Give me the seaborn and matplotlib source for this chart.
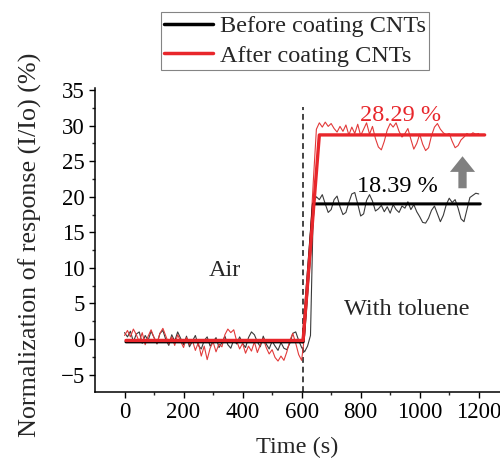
import numpy as np
import pandas as pd
import matplotlib
matplotlib.use("Agg")
import matplotlib.pyplot as plt
from matplotlib.lines import Line2D
import seaborn as sns

# ---------------- data ----------------
time_pre = np.arange(0, 601, 10)      # sampling grid, before toluene
time_post = np.arange(610, 1201, 10)  # sampling grid, with toluene

before_pre = [0.9, 0.3, 1.1, -0.4, 0.7, 1.0, -0.6, 0.5, -0.2, 1.1,
              0.2, -0.7, 0.8, 1.2, -0.1, -0.9, 0.6, -0.3, 1.0, 0.1,
              -0.8, 0.4, -1.1, -0.3, 0.5, -0.9, -1.4, -0.2, 0.3, -1.0,
              -0.4, 0.2, -1.2, -0.5, 0.4, -0.8, -1.3, -0.1, -0.7, 0.3,
              -0.6, -1.2, 0.2, 1.0, 0.6, -0.4, -1.1, 0.4, -0.7, -1.4,
              -0.3, -1.0, -1.6, -0.5, -1.3, -1.5, -0.6, 0.8, 1.0, -0.2,
              -1.2]
before_post = [-1.8, -1.0, 0.5, 19.2, 20.0, 19.6, 20.3, 19.0, 17.8, 18.2,
               19.6, 20.1, 18.6, 17.5, 17.8, 19.2, 20.4, 20.6, 19.0, 17.3,
               17.6, 19.5, 20.3, 19.4, 18.0, 18.3, 18.8, 17.9, 18.6, 17.7,
               18.9, 18.2, 17.8, 18.7, 18.4, 19.3, 18.2, 18.9, 17.9, 17.2,
               16.4, 16.3, 17.0, 18.1, 18.7, 17.6, 16.5, 17.4, 18.9, 19.8,
               19.2, 19.6, 18.4, 16.9, 16.5, 18.2, 19.9, 20.2, 20.5, 20.4]
after_pre = [0.5, 1.2, 0.3, 1.4, 0.6, -0.4, 0.9, -0.8, 0.4, 1.3,
             0.2, -0.6, 0.8, 1.5, 0.4, -0.7, 0.3, -0.9, 0.6, -0.3,
             -1.2, 0.2, -0.8, -0.2, -1.6, -0.5, -2.4, -1.0, -2.9, -1.3,
             -0.4, -1.8, -0.7, -1.1, 0.6, 1.4, 0.9, 1.3, -0.3, -1.4,
             -0.6, -2.0, -1.0, -1.7, -0.4, -1.9, -0.8, 0.1, -1.2, -2.1,
             -1.5, -2.6, -3.1, -2.4, -3.0, -1.8, -0.2, 0.8, -0.6, -2.2,
             -3.0]
after_post = [0.5, 7.5, 15.0, 22.5, 29.5, 30.4, 29.8, 30.5, 29.9, 30.3,
              29.6, 29.1, 29.9, 29.2, 30.1, 28.7, 29.8, 28.9, 30.2, 28.6,
              29.5, 30.4, 28.8, 29.9, 28.2, 27.0, 26.6, 27.8, 29.4, 30.3,
              29.8, 30.4, 29.2, 28.4, 28.9, 29.6, 28.1, 26.7, 27.5, 28.8,
              27.4, 26.5, 26.9, 28.6, 29.8, 30.3, 29.5, 29.0, 28.7, 28.9,
              27.8, 26.9, 27.2, 28.0, 28.4, 28.9, 28.6, 29.0, 28.8, 28.9]

# step fits
fit_before_t = [5, 605, 640, 1205]
fit_before_v = [-0.4, -0.4, 19.0, 19.0]
fit_after_t = [5, 605, 660, 1220]
fit_after_v = [-0.2, -0.2, 28.7, 28.7]

legend_labels = ["Before coating CNTs", "After coating CNTs"]
x_ticks = [0, 200, 400, 600, 800, 1000, 1200]
y_ticks = [-5, 0, 5, 10, 15, 20, 25, 30, 35]

# ---------------- style ----------------
sns.set_theme(style="ticks")
plt.rcParams["font.family"] = ["Liberation Serif", "DejaVu Serif"]

RED = "#e8262b"
BLACK = "#000000"

fig = plt.figure(figsize=(5.0, 4.68), dpi=100)
ax = fig.add_axes([0.19, 0.1624, 0.81, 0.6496])

time_all = np.concatenate([time_pre, time_post])
df = pd.DataFrame({
    "t": time_all,
    "before": before_pre + before_post,
    "after": after_pre + after_post,
})

sns.lineplot(data=df, x="t", y="before", color="#3a3a3a", lw=0.8, ax=ax, legend=False)
sns.lineplot(data=df, x="t", y="after", color="#e23a3a", lw=0.8, ax=ax, legend=False)
sns.lineplot(x=fit_before_t, y=fit_before_v, color=BLACK, lw=2.2, ax=ax, legend=False)
sns.lineplot(x=fit_after_t, y=fit_after_v, color=RED, lw=2.4, ax=ax, legend=False)

ax.vlines(605, -7.5, 32.6, colors="#444444", linestyles=(0, (3, 2)), lw=1.4, zorder=1)

ax.set_xlim(-100, 1272)
ax.set_ylim(-7.45, 35.3)
ax.set_xticks(x_ticks)
ax.set_yticks(y_ticks)
ax.set_xticks([100, 300, 500, 700, 900, 1100], minor=True)
ax.set_yticks([-2.5, 2.5, 7.5, 12.5, 17.5, 22.5, 27.5, 32.5], minor=True)
ax.tick_params(axis="both", which="major", direction="out", length=4.3, width=1,
               labelsize=16.5, pad=3, colors="black")
ax.tick_params(axis="both", which="minor", direction="out", length=2.3, width=1)

for s in ["top", "right"]:
    ax.spines[s].set_visible(False)
for s in ["left", "bottom"]:
    ax.spines[s].set_linewidth(1.1)
    ax.spines[s].set_color("black")

ax.set_xlabel("Time (s)", fontsize=17.5, labelpad=10)
ax.set_ylabel("Normalization of response (I/Io) (%)", fontsize=18.8)
ax.yaxis.set_label_coords(-0.131, 0.484)

ax.text(341, 9.7, "Air", fontsize=17.5, ha="center", va="center")
ax.text(956, 4.1, "With toluene", fontsize=17.5, ha="center", va="center")
ax.text(936, 31.5, "28.29 %", fontsize=17.5, ha="center", va="center", color=RED)
ax.text(925, 21.4, "18.39 %", fontsize=17.5, ha="center", va="center", color=BLACK)

ax.arrow(1145, 21.2, 0, 4.5, width=28, head_width=85, head_length=2.2,
         length_includes_head=True, color="#808080", lw=0)

handles = [Line2D([], [], color=BLACK, lw=2.5), Line2D([], [], color=RED, lw=2.5)]
leg = fig.legend(handles, legend_labels, loc="upper left",
                 bbox_to_anchor=(0.322, 0.974), fontsize=17.5, frameon=True,
                 fancybox=False, edgecolor="#666666", borderpad=0.12,
                 labelspacing=0.32, handlelength=2.0, handletextpad=0.3,
                 borderaxespad=0)
leg.get_frame().set_linewidth(0.8)

fig.savefig("out.png", dpi=100)
